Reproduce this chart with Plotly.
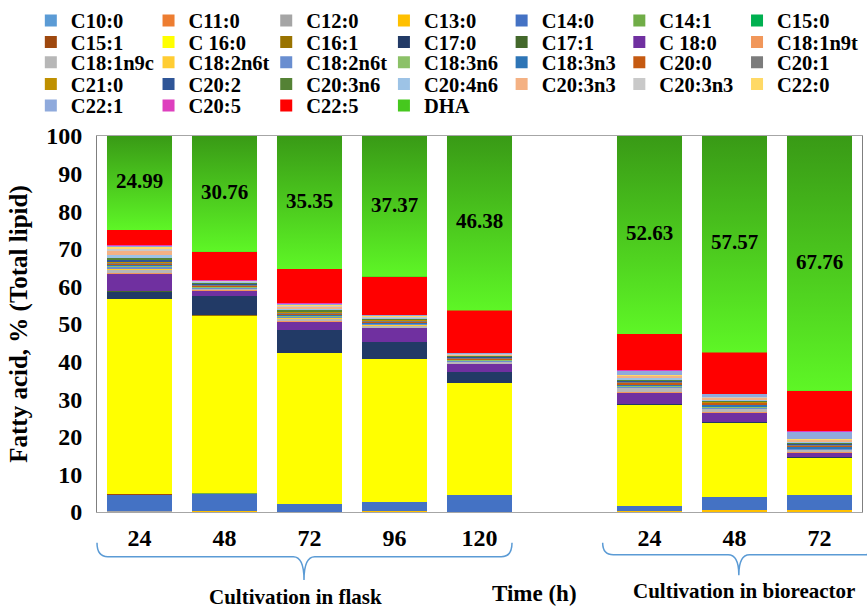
import plotly.graph_objects as go

# Sampling times (h); an empty slot separates the two cultivation modes
flask_hours = ["24", "48", "72", "96", "120"]
bioreactor_hours = ["24", "48", "72"]

# Fatty-acid profile, % of total lipid, in order:
# flask 24/48/72/96/120 h, bioreactor 24/48/72 h
c10_0 = [0.05, 0.02, 0.02, 0.02, 0.02, 0.02, 0.02, 0.02]
c11_0 = [0.15, 0.05, 0.05, 0.15, 0.03, 0.03, 0.03, 0.03]
c12_0 = [0.10, 0.05, 0.02, 0.05, 0.03, 0.05, 0.05, 0.05]
c13_0 = [0.05, 0.03, 0.01, 0.03, 0.02, 0.25, 0.40, 0.40]
c14_0 = [4.20, 4.80, 2.00, 2.50, 4.40, 1.25, 3.40, 4.00]
c14_1 = [0.10, 0.05, 0.00, 0.00, 0.00, 0.00, 0.00, 0.00]
c15_0 = [0.05, 0.00, 0.00, 0.00, 0.00, 0.00, 0.00, 0.00]
c15_1 = [0.05, 0.00, 0.00, 0.00, 0.00, 0.00, 0.00, 0.00]
c16_0 = [51.90, 47.35, 40.25, 37.85, 29.90, 27.00, 20.00, 9.90]
c16_1 = [0.05, 0.05, 0.00, 0.00, 0.00, 0.00, 0.00, 0.00]
c17_0 = [1.90, 5.00, 6.05, 4.50, 2.90, 0.10, 0.10, 0.10]
c17_1 = [0.10, 0.00, 0.00, 0.00, 0.00, 0.00, 0.00, 0.00]
c18_0 = [4.60, 1.60, 2.20, 4.00, 2.20, 3.00, 2.40, 1.40]
c18_1n9t = [0.30, 0.10, 0.20, 0.10, 0.10, 0.20, 0.20, 0.10]
c18_1n9c = [1.00, 0.30, 0.60, 0.50, 0.40, 1.10, 0.90, 0.50]
c18_2n6t_a = [0.20, 0.10, 0.20, 0.10, 0.05, 0.10, 0.10, 0.10]
c18_2n6t_b = [0.40, 0.20, 0.40, 0.20, 0.30, 0.30, 0.30, 0.20]
c18_3n6 = [0.30, 0.20, 0.20, 0.20, 0.10, 0.20, 0.20, 0.20]
c18_3n3 = [0.30, 0.20, 0.30, 0.20, 0.20, 0.30, 0.30, 0.30]
c20_0 = [0.30, 0.20, 0.30, 0.30, 0.20, 0.60, 0.60, 0.40]
c20_1 = [0.30, 0.20, 0.20, 0.20, 0.20, 0.20, 0.20, 0.20]
c21_0 = [0.20, 0.10, 0.20, 0.20, 0.10, 0.10, 0.10, 0.10]
c20_2 = [0.30, 0.10, 0.20, 0.10, 0.10, 0.20, 0.20, 0.20]
c20_3n6 = [0.90, 0.30, 0.40, 0.30, 0.30, 0.30, 0.20, 0.30]
c20_4n6 = [0.50, 0.20, 0.30, 0.20, 0.20, 0.30, 0.30, 0.20]
c20_3n3_a = [1.30, 0.10, 0.50, 0.10, 0.05, 0.60, 0.40, 0.50]
c20_3n3_b = [0.45, 0.20, 0.30, 0.30, 0.40, 0.20, 0.20, 0.20]
c22_0 = [0.35, 0.05, 0.30, 0.05, 0.05, 0.10, 0.10, 0.10]
c22_1 = [0.60, 0.15, 0.30, 0.20, 0.15, 1.20, 0.70, 2.00]
c20_5 = [0.05, 0.05, 0.10, 0.00, 0.00, 0.20, 0.10, 0.10]
c22_5 = [3.96, 7.49, 9.05, 10.28, 11.22, 9.47, 10.93, 10.64]
dha = [24.99, 30.76, 35.35, 37.37, 46.38, 52.63, 57.57, 67.76]

names = ["C10:0", "C11:0", "C12:0", "C13:0", "C14:0", "C14:1", "C15:0",
         "C15:1", "C 16:0", "C16:1", "C17:0", "C17:1", "C 18:0", "C18:1n9t",
         "C18:1n9c", "C18:2n6t", "C18:2n6t", "C18:3n6", "C18:3n3", "C20:0", "C20:1",
         "C21:0", "C20:2", "C20:3n6", "C20:4n6", "C20:3n3", "C20:3n3", "C22:0",
         "C22:1", "C20:5", "C22:5", "DHA"]
values = [c10_0, c11_0, c12_0, c13_0, c14_0, c14_1, c15_0,
          c15_1, c16_0, c16_1, c17_0, c17_1, c18_0, c18_1n9t,
          c18_1n9c, c18_2n6t_a, c18_2n6t_b, c18_3n6, c18_3n3, c20_0, c20_1,
          c21_0, c20_2, c20_3n6, c20_4n6, c20_3n3_a, c20_3n3_b, c22_0,
          c22_1, c20_5, c22_5, dha]
colors = ["#5B9BD5", "#ED7D31", "#A5A5A5", "#FFC000", "#4472C4", "#70AD47", "#00B050",
          "#9E480E", "#FFFF00", "#997300", "#223A66", "#43682B", "#7030A0", "#F1975A",
          "#B7B7B7", "#FFCD33", "#698ED0", "#8CC168", "#2E75B6", "#C55A11", "#7C7C7C",
          "#BF9000", "#2F5597", "#548235", "#9DC3E6", "#F4B183", "#C9C9C9", "#FFD966",
          "#8FAADC", "#DE3FBE", "#FF0000", "#46C81E"]

SERIF = "Liberation Serif"
BAR_W = 0.765
PER_ROW = 7
ENTRY_W = 72.7

hour_labels = flask_hours + [""] + bioreactor_hours
slots = list(range(len(hour_labels)))
bar_x = [s for s, h in zip(slots, hour_labels) if h]

fig = go.Figure()

for i, (name, vals, col) in enumerate(zip(names, values, colors)):
    row = i // PER_ROW
    # the last entry of a row may be wider than the column, so give it room
    last_in_row = (i % PER_ROW == PER_ROW - 1)
    fig.add_trace(go.Bar(
        x=bar_x, y=vals, name=name, width=BAR_W,
        marker=dict(color=col, line=dict(width=0)),
        legend="legend" if row == 0 else f"legend{row + 1}",
        legendwidth=83 if last_in_row else None,
    ))

# DHA segments get a vertical green gradient
dha_base = [sum(v[k] for v in values[:-1]) for k in range(len(bar_x))]
for xc, base, d in zip(bar_x, dha_base, dha):
    fig.add_trace(go.Scatter(
        x=[xc - BAR_W / 2, xc + BAR_W / 2, xc + BAR_W / 2, xc - BAR_W / 2],
        y=[base, base, base + d, base + d],
        fill="toself", mode="none",
        fillgradient=dict(type="vertical",
                          colorscale=[[0, "#5EF626"], [1, "#399A16"]]),
        showlegend=False, hoverinfo="skip",
    ))

# DHA share written in the middle of each green segment
fig.add_trace(go.Scatter(
    x=bar_x, y=[b + d / 2 for b, d in zip(dha_base, dha)],
    text=[f"{d:.2f}" for d in dha], mode="text",
    textfont=dict(family=SERIF, size=21, color="black", weight="bold"),
    showlegend=False, hoverinfo="skip",
))

# one horizontal legend per row of seven entries, stacked above the plot
layout_legends = {}
row_top = [1.360, 1.303, 1.249, 1.191, 1.134]
for r, yv in enumerate(row_top):
    key = "legend" if r == 0 else f"legend{r + 1}"
    layout_legends[key] = dict(
        orientation="h", x=-0.0865, y=yv, xanchor="left", yanchor="top",
        entrywidth=ENTRY_W, entrywidthmode="pixels", traceorder="normal",
        font=dict(family=SERIF, size=20.5, color="black", weight="bold"),
        bgcolor="rgba(0,0,0,0)", borderwidth=0,
    )


def brace(x0, x1, xc, yt, ym, ytip, dx=0.014):
    return (f"M {x0},{yt} Q {x0},{ym} {x0 + dx},{ym} L {xc - dx},{ym} "
            f"Q {xc},{ym} {xc},{ytip} Q {xc},{ym} {xc + dx},{ym} "
            f"L {x1 - dx},{ym} Q {x1},{ym} {x1},{yt}")


brace_line = dict(color="#5B9BD5", width=1.5)
fig.update_layout(
    width=867, height=608,
    margin=dict(l=97, r=5, t=136, b=96, autoexpand=False),
    paper_bgcolor="white", plot_bgcolor="white",
    barmode="stack", bargap=0,
    showlegend=True,
    font=dict(family=SERIF, color="black"),
    xaxis=dict(
        range=[-0.5, len(slots) - 0.5], tickvals=slots, ticktext=hour_labels,
        showgrid=False, zeroline=False, ticks="", automargin=False,
        showline=True, mirror=True, linecolor="#A6A6A6", linewidth=1,
        tickfont=dict(family=SERIF, size=24, color="black", weight="bold"),
        ticklabelstandoff=4,
    ),
    yaxis=dict(
        range=[0, 100], dtick=10, showgrid=False, zeroline=False, ticks="",
        automargin=False,
        showline=True, mirror=True, linecolor="#7F7F7F", linewidth=1,
        tickfont=dict(family=SERIF, size=24, color="black", weight="bold"),
        ticklabelstandoff=9,
        title=dict(text="Fatty acid, % (Total lipid)", standoff=11,
                   font=dict(family=SERIF, size=25, color="black", weight="bold")),
    ),
    shapes=[
        dict(type="path", xref="paper", yref="paper", line=brace_line,
             path=brace(0.0, 0.5425, 0.2706, -0.082, -0.119, -0.181)),
        dict(type="path", xref="paper", yref="paper", line=brace_line,
             path=brace(0.661, 1.017, 0.839, -0.082, -0.114, -0.168)),
    ],
    annotations=[
        dict(text="Cultivation in flask", xref="paper", yref="paper",
             x=0.259, y=-0.226, showarrow=False, xanchor="center", yanchor="middle",
             font=dict(family=SERIF, size=21, color="black", weight="bold")),
        dict(text="Time (h)", xref="paper", yref="paper",
             x=0.572, y=-0.218, showarrow=False, xanchor="center", yanchor="middle",
             font=dict(family=SERIF, size=23, color="black", weight="bold")),
        dict(text="Cultivation in bioreactor", xref="paper", yref="paper",
             x=0.846, y=-0.210, showarrow=False, xanchor="center", yanchor="middle",
             font=dict(family=SERIF, size=21, color="black", weight="bold")),
    ],
    **layout_legends,
)

fig.write_html("out.html")
